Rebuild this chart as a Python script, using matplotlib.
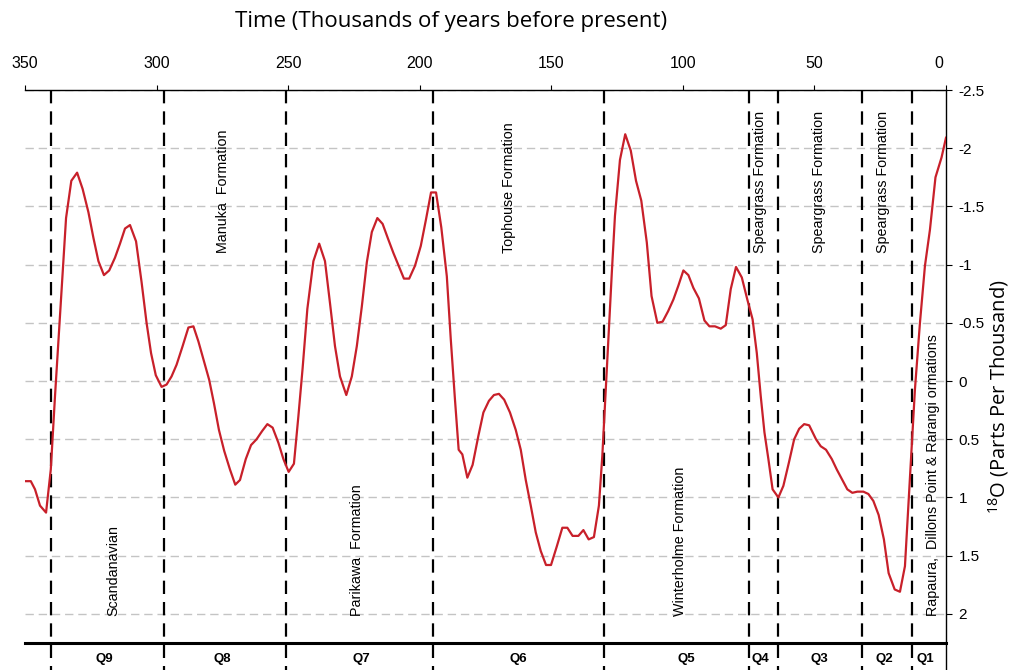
import numpy as np
import matplotlib
matplotlib.use("Agg")
import matplotlib.pyplot as plt
from matplotlib.transforms import ScaledTranslation

plt.rcParams["font.family"] = ["Liberation Sans", "DejaVu Sans"]
plt.rcParams["mathtext.fontset"] = "custom"
plt.rcParams["mathtext.rm"] = "Open Sans"
plt.rcParams["mathtext.it"] = "Open Sans"

# time in thousands of years before present, d18O in parts per thousand
age_ka = [350, 347.8, 346.2, 344.3, 342.0, 340.2, 338.6, 336.7, 334.4, 332.4,
          330.2, 328.1, 325.9, 324.0, 322.1, 320.0, 318.0, 315.8, 313.9, 312.0,
          310.1, 307.8, 305.7, 303.8, 302.1, 300.3, 298.1, 296.2, 294.3, 292.4,
          290.1, 287.9, 286.0, 284.1, 282.0, 280.0, 278.2, 276.3, 274.3, 272.1,
          270.1, 268.3, 266.1, 264.1, 262.0, 259.9, 257.9, 255.9, 253.7, 251.8,
          249.8, 247.8, 246.1, 244.5, 242.7, 240.4, 238.2, 236.0, 234.1, 232.2,
          230.3, 227.9, 225.8, 223.9, 222.0, 220.1, 218.2, 216.1, 214.1, 212.0,
          210.0, 208.0, 206.0, 204.0, 201.8, 199.6, 197.6, 195.7, 193.8, 191.8,
          189.7, 188.2, 186.6, 185.2, 183.8, 181.9, 179.9, 177.7, 175.8, 173.7,
          171.8, 169.9, 167.9, 165.7, 163.5, 161.6, 159.7, 157.8, 155.9, 154.0,
          152.0, 150.1, 147.9, 145.8, 143.9, 141.9, 139.7, 137.8, 135.8, 133.8,
          131.9, 130.6, 129.6, 128.3, 127.0, 125.8, 123.9, 121.9, 119.8, 117.8,
          115.8, 113.7, 111.9, 109.7, 107.7, 105.6, 103.6, 101.7, 99.8, 97.9,
          96.0, 93.9, 91.8, 89.9, 87.8, 85.6, 83.7, 81.8, 79.8, 77.6,
          75.5, 73.5, 71.9, 70.4, 69.0, 67.5, 65.9, 63.7, 61.8, 59.7,
          57.7, 55.8, 53.9, 52.0, 49.4, 47.6, 45.6, 43.4, 41.5, 39.6,
          37.5, 35.6, 33.7, 31.4, 29.5, 27.6, 25.6, 23.6, 21.8, 19.5,
          17.5, 15.6, 14.3, 13.1, 11.8, 9.9, 8.0, 6.1, 4.0, 1.7, 0.0]
d18o = [0.86, 0.86, 0.93, 1.07, 1.13, 0.76, 0.13, -0.56, -1.40, -1.72,
        -1.79, -1.65, -1.45, -1.23, -1.03, -0.91, -0.95, -1.06, -1.18, -1.31,
        -1.34, -1.20, -0.85, -0.50, -0.24, -0.05, 0.05, 0.03, -0.04, -0.14,
        -0.30, -0.46, -0.47, -0.34, -0.17, -0.01, 0.19, 0.42, 0.60, 0.76,
        0.89, 0.85, 0.67, 0.55, 0.50, 0.43, 0.37, 0.40, 0.53, 0.67,
        0.78, 0.71, 0.30, -0.11, -0.62, -1.03, -1.18, -1.03, -0.67, -0.30,
        -0.04, 0.12, -0.04, -0.30, -0.64, -1.02, -1.28, -1.40, -1.35, -1.22,
        -1.10, -0.99, -0.88, -0.88, -0.99, -1.16, -1.39, -1.62, -1.62, -1.32,
        -0.90, -0.36, 0.16, 0.59, 0.63, 0.83, 0.72, 0.47, 0.27, 0.17,
        0.12, 0.11, 0.16, 0.27, 0.42, 0.59, 0.85, 1.07, 1.30, 1.46,
        1.58, 1.58, 1.42, 1.26, 1.26, 1.33, 1.33, 1.28, 1.36, 1.34,
        1.07, 0.64, 0.21, -0.36, -0.93, -1.42, -1.90, -2.12, -1.98, -1.72,
        -1.55, -1.19, -0.73, -0.50, -0.51, -0.60, -0.70, -0.82, -0.95, -0.91,
        -0.80, -0.71, -0.52, -0.47, -0.47, -0.45, -0.48, -0.79, -0.98, -0.89,
        -0.70, -0.53, -0.24, 0.13, 0.44, 0.67, 0.93, 1.00, 0.90, 0.70,
        0.50, 0.41, 0.37, 0.38, 0.50, 0.56, 0.59, 0.67, 0.76, 0.84,
        0.93, 0.96, 0.95, 0.95, 0.97, 1.03, 1.15, 1.36, 1.65, 1.79,
        1.81, 1.59, 1.07, 0.59, 0.07, -0.50, -0.99, -1.30, -1.75, -1.92, -2.09]

# stage boundaries (ka)
boundaries = [340, 297, 251, 195, 130, 75, 64, 32, 13]

stage_names = ["Q9", "Q8", "Q7", "Q6", "Q5", "Q4", "Q3", "Q2", "Q1"]
stage_x = [319.9, 275.1, 222.3, 162.6, 98.5, 70.7, 48.3, 23.6, 8.0]

# formation labels, x in ka, placed near top or bottom
formations = ["Scandanavian", "Manuka  Formation", "Parikawa  Formation",
              "Tophouse Formation", "Winterholme Formation", "Speargrass Formation",
              "Speargrass Formation", "Speargrass Formation",
              "Rapaura,  Dillons Point & Rarangi ormations"]
formation_x = [316.6, 274.8, 223.8, 166.1, 101.1, 70.7, 48.3, 24.0, 4.9]
formation_pos = ["low", "high", "low", "high", "low", "high", "high", "high", "low"]

x_ticks = [350, 300, 250, 200, 150, 100, 50, 0]
y_ticks = [-2.5, -2, -1.5, -1, -0.5, 0, 0.5, 1, 1.5, 2]

fig = plt.figure(figsize=(10.13, 6.70), dpi=100)
ax = fig.add_axes([25 / 1013, 1 - 643 / 670, 921 / 1013, 553 / 670])

ax.plot(age_ka, d18o, color="#c8202a", linewidth=1.6, zorder=3)

for b in boundaries:
    ax.plot([b, b], [-2.5, 2.5], color="black", linewidth=1.6,
            dashes=(6, 3.6), clip_on=False, zorder=2)

ax.set_xlim(350, 0)
ax.set_ylim(2.25, -2.5)

ax.xaxis.tick_top()
ax.set_xticks(x_ticks)
ax.set_xticklabels([str(t) for t in x_ticks])
ax.tick_params(axis="x", direction="out", length=3.5, width=0.8, pad=10, labelsize=11.5)
zero_lab = ax.xaxis.get_major_ticks()[-1].label2
zero_lab.set_transform(zero_lab.get_transform() +
                       ScaledTranslation(-0.075, 0, fig.dpi_scale_trans))

ax.yaxis.tick_right()
ax.set_yticks(y_ticks)
ax.set_yticklabels([f"{v:g}" for v in y_ticks])
ax.tick_params(axis="y", direction="out", length=4.5, width=0.8, pad=4.5, labelsize=11)

ax.yaxis.grid(True, color="#c4c4c4", linestyle=(0, (6, 3.5)), linewidth=1.0)
ax.set_axisbelow(True)

ax.spines["left"].set_visible(False)
ax.spines["top"].set_linewidth(1.0)
ax.spines["right"].set_linewidth(1.0)
ax.spines["bottom"].set_linewidth(2.2)
# right axis line runs on below the bottom rule
ax.plot([0, 0], [2.25, 2.5], color="black", linewidth=1.0, clip_on=False)

for name, x, pos in zip(formations, formation_x, formation_pos):
    y = -1.10 if pos == "high" else 2.02
    ax.text(x, y, name, rotation=90, ha="center", va="bottom",
            fontsize=10.3, color="black")

for name, x in zip(stage_names, stage_x):
    ax.text(x, 2.384, name, ha="center", va="center", fontsize=9.5,
            fontweight="bold", clip_on=False)

fig.text(451 / 1013, 1 - 22 / 670, "Time (Thousands of years before present)",
         ha="center", va="center", fontsize=16, family="Open Sans")
fig.text(999 / 1013, 1 - 397 / 670, r"$^{18}$O (Parts Per Thousand)",
         ha="center", va="center", rotation=90, fontsize=14.5, family="Open Sans")

fig.savefig("out.png", dpi=100)
